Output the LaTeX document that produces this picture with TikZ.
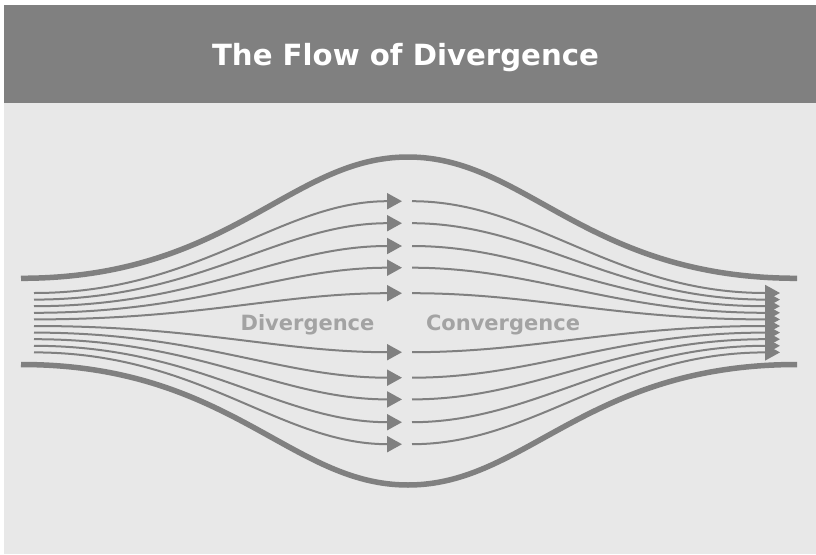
\documentclass[tikz,border=0pt]{standalone}
\usepackage{fontspec}
\setmainfont{DejaVu Sans}
\usetikzlibrary{arrows.meta}
\definecolor{bandgray}{HTML}{808080}
\definecolor{panelgray}{HTML}{E8E8E8}
\definecolor{tubegray}{HTML}{808080}
\definecolor{wordgray}{HTML}{A3A3A3}

\begin{document}
\begin{tikzpicture}[
  x=1pt, y=-1pt,
  wall/.style={draw=tubegray, line width=5.5pt},
  stream/.style={draw=tubegray, line width=2pt,
    -{Triangle[length=15pt, width=16pt]}},
  flowtext/.style={text=wordgray, anchor=base,
    font=\bfseries\fontsize{21}{25}\selectfont},
  headline/.style={text=white, anchor=base,
    font=\bfseries\fontsize{29.2}{35}\selectfont}
]
  \useasboundingbox (0,0) rectangle (816,554);
  \fill[panelgray] (4,103) rectangle (816,554);
  \fill[bandgray] (4,5) rectangle (816,103);
  \node[headline] (title) at (405.5,65) {The Flow of Divergence};

  % tube walls, widest at the middle
  \draw[wall] (21,278.3) .. controls (230,278.3) and (290,157) .. (408,157)
    .. controls (526,157) and (586,278.3) .. (797,278.3);
  \draw[wall] (21,364.5) .. controls (230,364.5) and (290,485) .. (408,485)
    .. controls (526,485) and (586,364.5) .. (797,364.5);

  % streamlines: offset at the inlet / offset at the middle
  \foreach \s/\e in {3.3/29.5, 9.9/55, 16.5/76.7, 23.1/99.5, 29.7/121.5} {
    \foreach \d in {-1,1} {
      \draw[stream] (34,322.7+\d*\s) .. controls (200,322.7+\d*\s)
        and (280,322.7+\d*\e) .. (402,322.7+\d*\e);
      \draw[stream] (412,322.7+\d*\e) .. controls (534,322.7+\d*\e)
        and (614,322.7+\d*\s) .. (780,322.7+\d*\s);
    }
  }

  \node[flowtext] (div) at (307.5,330) {Divergence};
  \node[flowtext] (conv) at (503,330) {Convergence};
\end{tikzpicture}
\end{document}
